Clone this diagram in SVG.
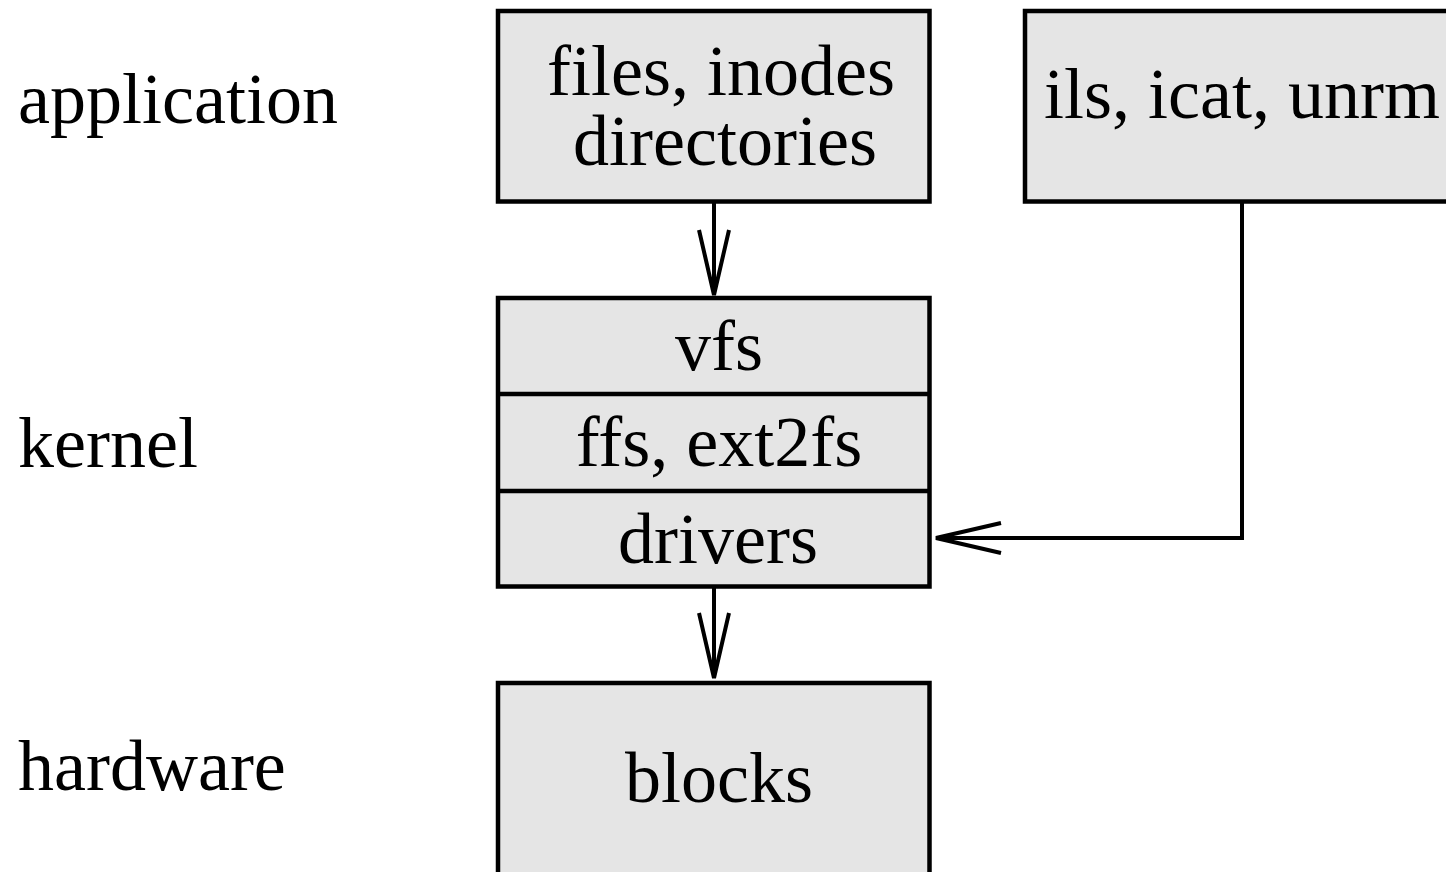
<svg xmlns="http://www.w3.org/2000/svg" width="1446" height="872" viewBox="0 0 1446 872">
<defs>
<style>
.box{fill:#e5e5e5;stroke:#000;stroke-width:4.5}
.div{stroke:#000;stroke-width:4.5}
.t{font-family:"Liberation Serif","Times New Roman",serif;font-size:72px;fill:#000}
.c{text-anchor:middle}
.con{fill:none;stroke:#000;stroke-width:4;marker-end:url(#arr)}
</style>
<marker id="arr" markerUnits="userSpaceOnUse" markerWidth="80" markerHeight="40" refX="66" refY="17" orient="auto" viewBox="0 0 80 40">
<path d="M1,2 L66,17 L1,32" fill="none" stroke="#000" stroke-width="4"/>
</marker>
</defs>
<rect width="1446" height="872" fill="#fff"/>
<g id="labels">
<text class="t" x="18" y="123">application</text>
<text class="t" x="18" y="467">kernel</text>
<text class="t" x="18" y="790">hardware</text>
</g>
<g id="files">
<rect class="box" x="498" y="11" width="431.5" height="190.5"/>
<text class="t c" x="721" y="95">files, inodes</text>
<text class="t c" x="725" y="165">directories</text>
</g>
<g id="tools">
<rect class="box" x="1025" y="11" width="500" height="190.5"/>
<text class="t" x="1044" y="118">ils, icat, unrm</text>
</g>
<g id="kernel">
<rect class="box" x="498" y="298" width="431.5" height="288.5"/>
<line class="div" x1="498" y1="394" x2="929.5" y2="394"/>
<line class="div" x1="498" y1="491" x2="929.5" y2="491"/>
<text class="t c" x="719" y="370">vfs</text>
<text class="t c" x="719" y="466">ffs, ext2fs</text>
<text class="t c" x="718" y="563">drivers</text>
</g>
<g id="blocks">
<rect class="box" x="498" y="683" width="431.5" height="250"/>
<text class="t c" x="719" y="802">blocks</text>
</g>
<g id="connectors">
<path class="con" d="M714,202 L714,295"/>
<path class="con" d="M714,587 L714,678"/>
<path class="con" d="M1242,202 L1242,538 L936,538"/>
</g>
</svg>
